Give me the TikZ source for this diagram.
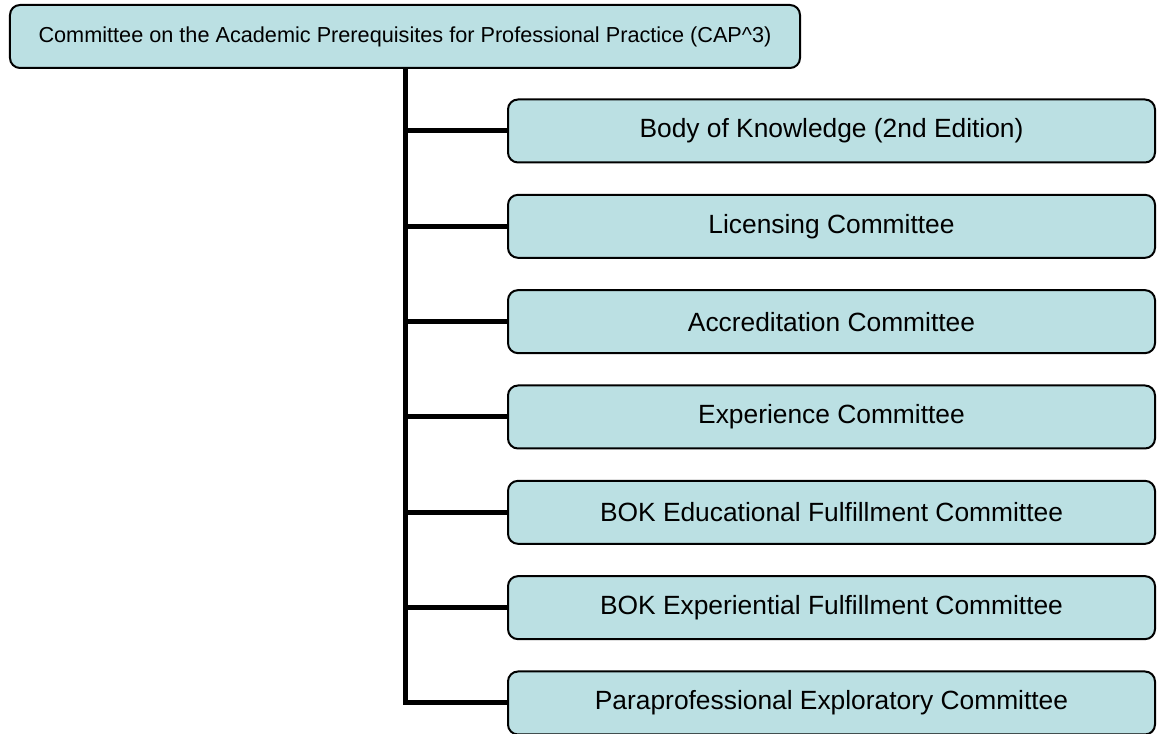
\documentclass[tikz,border=0pt]{standalone}
\usepackage{fontspec}
\setmainfont{Liberation Sans}
\usetikzlibrary{positioning}

\definecolor{boxfill}{RGB}{187,224,227}

\begin{document}
\begin{tikzpicture}[x=0.3mm, y=0.3mm,
    unitbox/.style={rectangle, rounded corners=3mm, draw=black, line width=0.6mm, fill=boxfill, minimum height=18.9mm, inner sep=0pt},
    childbox/.style={unitbox, minimum width=194.1mm, font=\fontsize{22.5pt}{26pt}\selectfont},
    trunk/.style={line width=1.5mm, black}]
    \useasboundingbox (0,0) rectangle (1158,734);

    % Comitato principale
    \node[unitbox, minimum width=237mm, font=\fontsize{18.5pt}{22pt}\selectfont] (cap) at (405,697.5) {Committee on the Academic Prerequisites for Professional Practice (CAP\textasciicircum 3)};

    % Sottocomitati
    \node[childbox] (bok) at (831.5,603) {Body of Knowledge (2nd Edition)};
    \node[childbox, below=9.1mm of bok] (lic) {Licensing Committee};
    \node[childbox, below=9.1mm of lic] (accr) {Accreditation Committee};
    \node[childbox, below=9.1mm of accr] (exper) {Experience Committee};
    \node[childbox, below=9.1mm of exper] (bokedu) {BOK Educational Fulfillment Committee};
    \node[childbox, below=9.1mm of bokedu] (bokexp) {BOK Experiential Fulfillment Committee};
    \node[childbox, below=9.1mm of bokexp] (para) {Paraprofessional Exploratory Committee};

    % Connessioni
    \draw[trunk] (cap.south) |- (para.west);
    \draw[trunk] (cap.south |- bok.west) -- (bok.west);
    \draw[trunk] (cap.south |- lic.west) -- (lic.west);
    \draw[trunk] (cap.south |- accr.west) -- (accr.west);
    \draw[trunk] (cap.south |- exper.west) -- (exper.west);
    \draw[trunk] (cap.south |- bokedu.west) -- (bokedu.west);
    \draw[trunk] (cap.south |- bokexp.west) -- (bokexp.west);
\end{tikzpicture}
\end{document}
